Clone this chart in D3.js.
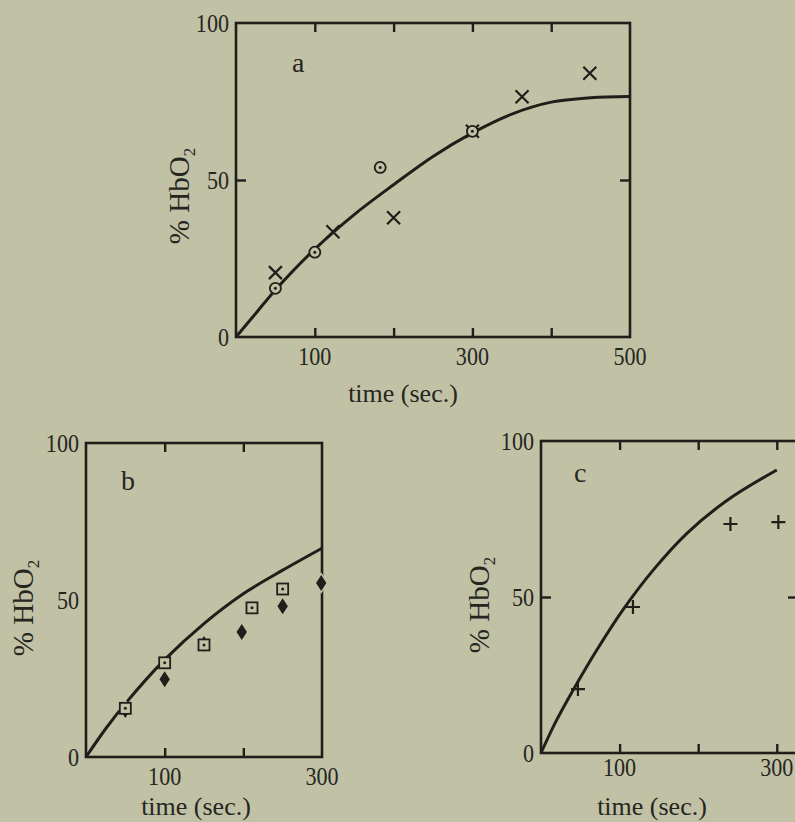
<!DOCTYPE html>
<html>
<head>
<meta charset="utf-8">
<script src="https://cdn.jsdelivr.net/npm/d3@7"></script>
<style>
  html, body { margin: 0; padding: 0; background: #c1c2a5; }
  svg { display: block; }
  text { font-family: "Liberation Serif", "DejaVu Serif", serif; fill: #26261f; }
</style>
</head>
<body>
<div id="chart"></div>
<script>
// three panels of % HbO2 vs time

// panel a
var aCurveT = [0, 25, 50, 100, 150, 200, 250, 300, 350, 400, 450, 500],
    aCurveY = [0, 7.5, 15, 28, 39, 48.5, 57.5, 65, 71, 74.8, 76.2, 76.6],
    aCrossT = [50, 123, 200, 300, 363, 449],
    aCrossY = [20.5, 33.5, 38, 65.5, 76.5, 84],
    aCircT  = [50, 100, 183, 300],
    aCircY  = [15.5, 27, 54, 65.5];

// panel b
var bCurveT = [0, 25, 50, 100, 150, 200, 250, 300],
    bCurveY = [0, 9, 17, 31, 42.5, 52, 59.5, 66.5],
    bSqT  = [50, 100, 150, 211, 250],
    bSqY  = [15.5, 30, 35.7, 47.5, 53.5],
    bDiaT = [50, 100, 150, 198, 250, 299],
    bDiaY = [15, 24.8, 36, 39.8, 48, 55.4];

// panel c
var cCurveT = [0, 20, 46, 71, 104, 143, 186, 237, 300],
    cCurveY = [0, 10.6, 22.4, 33, 45.8, 58.7, 70.5, 81, 90.7],
    cPlusT = [47, 117, 241, 302],
    cPlusY = [20.5, 46.8, 73.4, 74];

// ticks and labels
var aTicksX = [100, 200, 300, 400], aLabelsX = [100, 300, 500],
    bTicksX = [100, 200],           bLabelsX = [100, 300],
    cTicksX = [100, 200, 300],      cLabelsX = [100, 300],
    yLabels = [0, 50, 100];

var W = 795, H = 822, bg = "#c1c2a5", ink = "#1f1f1a";

var svg = d3.select("#chart").append("svg").attr("width", W).attr("height", H);
svg.append("rect").attr("width", W).attr("height", H).attr("fill", bg);

var zip = function(xs, ys) { return xs.map(function(x, i) { return [x, ys[i]]; }); };

function panel(p) {
  var x = d3.scaleLinear().domain([0, p.xmax]).range([p.left, p.right]),
      y = d3.scaleLinear().domain([0, 100]).range([p.bottom, p.top]);
  var g = svg.append("g");

  // inward ticks, top and bottom (and sides when present)
  var tk = function(axis, tr) {
    g.append("g").attr("transform", tr).call(axis)
      .call(function(s) { s.select(".domain").remove(); s.selectAll("text").remove();
        s.selectAll("line").attr("stroke", ink).attr("stroke-width", 2.4); });
  };
  tk(d3.axisBottom(x).tickValues(p.ticksX).tickSize(-9), "translate(0," + p.bottom + ")");
  tk(d3.axisTop(x).tickValues(p.ticksX).tickSize(-9), "translate(0," + p.top + ")");
  tk(d3.axisLeft(y).tickValues(p.ticksY).tickSize(-10), "translate(" + p.left + ",0)");
  tk(d3.axisRight(y).tickValues(p.ticksY).tickSize(-10), "translate(" + p.right + ",0)");

  // frame
  g.append("rect")
    .attr("x", p.left).attr("y", p.top)
    .attr("width", p.right - p.left).attr("height", p.bottom - p.top)
    .attr("fill", "none").attr("stroke", ink).attr("stroke-width", 2.6);

  // curve
  g.append("path")
    .datum(zip(p.curveT, p.curveY))
    .attr("fill", "none").attr("stroke", ink).attr("stroke-width", 3)
    .attr("d", d3.line().x(function(d) { return x(d[0]); }).y(function(d) { return y(d[1]); })
      .curve(d3.curveCatmullRom.alpha(0.5)));

  p.marks(g, x, y);

  // tick labels
  yLabels.forEach(function(v) {
    g.append("text")
      .attr("transform", "translate(" + (p.left - 7) + "," + (y(v) + 9) + ") scale(0.85,1)")
      .attr("text-anchor", "end").attr("font-size", 26).text(v);
  });
  p.labelsX.forEach(function(v) {
    g.append("text")
      .attr("transform", "translate(" + x(v) + "," + p.xLabelY + ") scale(0.85,1)")
      .attr("text-anchor", "middle").attr("font-size", 26).text(v);
  });

  // axis titles
  g.append("text")
    .attr("x", p.titleX).attr("y", p.titleY)
    .attr("text-anchor", "middle").attr("font-size", 26).text("time (sec.)");
  var yt = g.append("text")
    .attr("transform", "translate(" + p.yTitleX + "," + p.yTitleY + ") rotate(-90)")
    .attr("text-anchor", "middle").attr("font-size", 29);
  yt.append("tspan").text("% HbO");
  yt.append("tspan").attr("font-size", 17).attr("dy", 6).text("2");

  // panel letter
  g.append("text").attr("x", p.letterX).attr("y", p.letterY)
    .attr("font-size", 28).text(p.letter);
}

function crosses(g, x, y, T, Y) {
  g.selectAll(null).data(zip(T, Y)).enter().append("path")
    .attr("transform", function(d) { return "translate(" + x(d[0]) + "," + y(d[1]) + ")"; })
    .attr("d", "M-6.5,-6.5L6.5,6.5M-6.5,6.5L6.5,-6.5")
    .attr("stroke", ink).attr("stroke-width", 2.2).attr("fill", "none");
}
function dotted(g, x, y, T, Y, shape) {
  var s = g.selectAll(null).data(zip(T, Y)).enter().append("g")
    .attr("transform", function(d) { return "translate(" + x(d[0]) + "," + y(d[1]) + ")"; });
  if (shape == "circle") s.append("circle").attr("r", 5.5);
  else s.append("rect").attr("x", -5.5).attr("y", -5.5).attr("width", 11).attr("height", 11);
  s.select(":first-child").attr("fill", bg).attr("stroke", ink).attr("stroke-width", 1.8);
  s.append("circle").attr("r", 1.5).attr("fill", ink);
}

panel({
  left: 236, right: 630, top: 23, bottom: 337, xmax: 500,
  ticksX: aTicksX, ticksY: [50], labelsX: aLabelsX, xLabelY: 365,
  curveT: aCurveT, curveY: aCurveY,
  titleX: 403, titleY: 402, yTitleX: 189, yTitleY: 196,
  letter: "a", letterX: 292, letterY: 72,
  marks: function(g, x, y) {
    crosses(g, x, y, aCrossT, aCrossY);
    dotted(g, x, y, aCircT, aCircY, "circle");
  }
});

panel({
  left: 86, right: 322, top: 443, bottom: 757, xmax: 300,
  ticksX: bTicksX, ticksY: [], labelsX: bLabelsX, xLabelY: 785,
  curveT: bCurveT, curveY: bCurveY,
  titleX: 196, titleY: 815, yTitleX: 33, yTitleY: 608,
  letter: "b", letterX: 121, letterY: 490,
  marks: function(g, x, y) {
    g.selectAll(null).data(zip(bDiaT, bDiaY)).enter().append("path")
      .attr("transform", function(d) { return "translate(" + x(d[0]) + "," + y(d[1]) + ")"; })
      .attr("d", "M0,-8L5.2,0L0,8L-5.2,0Z")
      .attr("fill", ink).attr("stroke", bg).attr("stroke-width", 3).attr("paint-order", "stroke");
    dotted(g, x, y, bSqT, bSqY, "square");
  }
});

panel({
  left: 541, right: 798, top: 441, bottom: 753, xmax: 327,
  ticksX: cTicksX, ticksY: [50], labelsX: cLabelsX, xLabelY: 776,
  curveT: cCurveT, curveY: cCurveY,
  titleX: 652, titleY: 815, yTitleX: 489, yTitleY: 605,
  letter: "c", letterX: 574, letterY: 482,
  marks: function(g, x, y) {
    g.selectAll(null).data(zip(cPlusT, cPlusY)).enter().append("path")
      .attr("transform", function(d) { return "translate(" + x(d[0]) + "," + y(d[1]) + ")"; })
      .attr("d", "M-7,0L7,0M0,-7L0,7")
      .attr("stroke", ink).attr("stroke-width", 2.2);
  }
});
</script>
</body>
</html>
